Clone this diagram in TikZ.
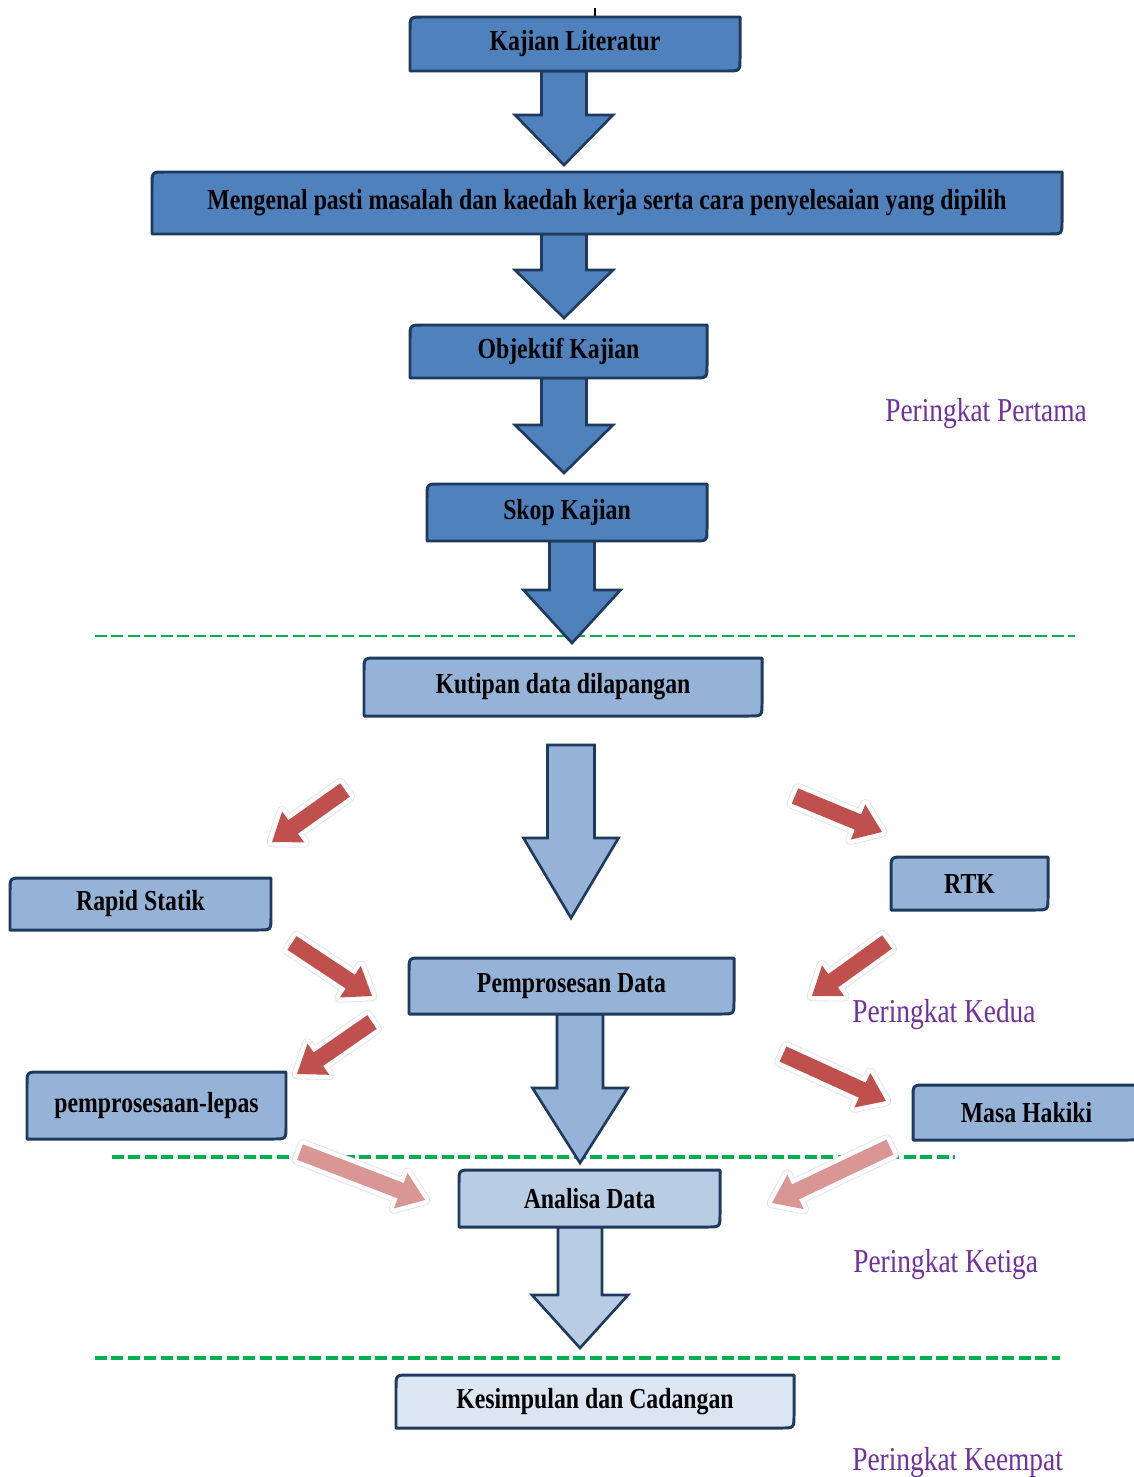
\documentclass[tikz,border=0pt]{standalone}
\usepackage{fontspec}
\setmainfont{Liberation Serif}
\newfontfamily\boxfont[FakeStretch=0.82]{Liberation Serif}
\newfontfamily\lblfont[FakeStretch=0.82]{Liberation Serif}
\usetikzlibrary{calc}
\definecolor{dblue}{HTML}{4F81BD}
\definecolor{mblue}{HTML}{95B3D7}
\definecolor{lblue}{HTML}{B8CCE4}
\definecolor{xblue}{HTML}{DCE6F2}
\definecolor{edge}{HTML}{1F3A5F}
\definecolor{redA}{HTML}{C0504D}
\definecolor{redB}{HTML}{DA9694}
\definecolor{shad}{HTML}{BF9090}
\definecolor{rim}{HTML}{E4E4E4}
\definecolor{purp}{HTML}{7030A0}
\definecolor{dgreen}{HTML}{00B050}
\definecolor{cursorc}{HTML}{E08A2A}

% box with rounded top-left and bottom-right corners
\newcommand\dbox[7]{%
  \draw[boxline,fill=#6] (#2,#5) -- (#2,#3+13) .. controls (#2,#3) .. (#2+13,#3) -- (#4,#3)
     -- (#4,#5-13) .. controls (#4,#5) .. (#4-13,#5) -- cycle;
  \node[boxtext] (#1) at ({(#2+#4)/2},{(#3+#5)/2}) {#7};}

% downward block arrow: cx, top, headY, tip, shaft half, head half, colour
\newcommand\blockdown[7]{%
  \draw[arrline,fill=#7] (#1-#5,#2) -- (#1-#5,#3) -- (#1-#6,#3) -- (#1,#4)
     -- (#1+#6,#3) -- (#1+#5,#3) -- (#1+#5,#2) -- cycle;}

% fat diagonal arrow with white halo and shadow: name, tail, tip, colour
\def\sw{0.165cm}
\def\hw{0.38cm}
\newcommand\fatpath[1]{($(#1a)!\sw!90:(#1b)$) -- ($(#1h)!\sw!90:(#1b)$) -- ($(#1h)!\hw!90:(#1b)$)
   -- (#1b) -- ($(#1h)!\hw!-90:(#1b)$) -- ($(#1h)!\sw!-90:(#1b)$) -- ($(#1a)!\sw!-90:(#1b)$) -- cycle}
\newcommand\fatarrow[4]{%
  \coordinate (#1a) at #2; \coordinate (#1b) at #3;
  \coordinate (#1h) at ($(#1b)!0.52cm!(#1a)$);
  \draw[shad,fill=shad,line width=5pt,line join=round,shift={(2,5)}] \fatpath{#1};
  \draw[rim,fill=white,line width=6pt,line join=round] \fatpath{#1};
  \draw[white,fill=white,line width=5pt,line join=round] \fatpath{#1};
  \fill[#4] \fatpath{#1};}

\begin{document}
\begin{tikzpicture}[x=0.02cm,y=-0.02cm,
  boxline/.style={draw=edge,line width=1.7pt,line join=round},
  boxtext/.style={font=\boxfont\bfseries\fontsize{16.5}{18}\selectfont,text=black,inner sep=0pt},
  arrline/.style={draw=edge,line width=1.5pt,line join=miter},
  stage/.style={font=\lblfont\fontsize{19}{22}\selectfont,text=purp,inner sep=0pt,anchor=base west},
  sep/.style={draw=dgreen,dash pattern=on 0.24cm off 0.09cm}]
\fill[white] (0,0) rectangle (1133,1477);
\useasboundingbox (0,0) rectangle (1133,1477);

% cursor mark
\draw[black,line width=1.6pt] (595,8) -- (595,21);
\draw[cursorc,line width=1.6pt] (595,21) -- (595,28);

% separators
\draw[sep,line width=1.4pt] (95,636) -- (1075,636);
\draw[sep,line width=2.4pt] (112,1157) -- (955,1157);
\draw[sep,line width=2.4pt] (95,1358) -- (1060,1358);

% block arrows
\blockdown{564}{71}{115}{165}{22.5}{49}{dblue}
\blockdown{564}{234}{270}{318}{22.5}{49}{dblue}
\blockdown{564}{378}{425}{473}{22.5}{49}{dblue}
\blockdown{572}{541}{590}{643}{22.5}{48.5}{dblue}
\blockdown{571}{745}{838}{918}{23.5}{47.5}{mblue}
\blockdown{580}{1014}{1088}{1163}{23}{47.5}{mblue}
\blockdown{580}{1227}{1295}{1348}{22}{48}{lblue}

% boxes
\dbox{lit}{410}{17}{740}{71}{dblue}{Kajian Literatur}
\dbox{kenal}{152}{172}{1062}{234}{dblue}{Mengenal pasti masalah dan kaedah kerja serta cara penyelesaian yang dipilih}
\dbox{obj}{410}{325}{707}{378}{dblue}{Objektif Kajian}
\dbox{skop}{427}{484}{707}{541}{dblue}{Skop Kajian}
\dbox{kutip}{364}{658}{762}{716}{mblue}{Kutipan data dilapangan}
\dbox{rapid}{10}{878}{271}{930}{mblue}{Rapid Statik}
\dbox{rtk}{891}{857}{1048}{910}{mblue}{RTK}
\dbox{proses}{409}{958}{734}{1014}{mblue}{Pemprosesan Data}
\dbox{lepas}{27}{1072}{286}{1139}{mblue}{pemprosesaan-lepas}
\dbox{masa}{913}{1085}{1140}{1140}{mblue}{Masa Hakiki}
\dbox{analisa}{459}{1170}{720}{1227}{lblue}{Analisa Data}
\dbox{simpul}{396}{1375}{794}{1428}{xblue}{Kesimpulan dan Cadangan}

% diagonal arrows
\fatarrow{ra}{(345,790)}{(272,842)}{redA}
\fatarrow{rb}{(292,943)}{(372,996)}{redA}
\fatarrow{rc}{(372,1022)}{(297,1074)}{redA}
\fatarrow{rd}{(795,796)}{(882,832)}{redA}
\fatarrow{re}{(887,942)}{(812,996)}{redA}
\fatarrow{rf}{(783,1054)}{(886,1101)}{redA}
\fatarrow{rg}{(300,1152)}{(425,1200)}{redB}
\fatarrow{rh}{(890,1147)}{(772,1203)}{redB}

% stage labels
\node[stage] (p1) at (885,421) {Peringkat Pertama};
\node[stage] (p2) at (852,1022) {Peringkat Kedua};
\node[stage] (p3) at (853,1272) {Peringkat Ketiga};
\node[stage] (p4) at (852,1470) {Peringkat Keempat};
\end{tikzpicture}
\end{document}
